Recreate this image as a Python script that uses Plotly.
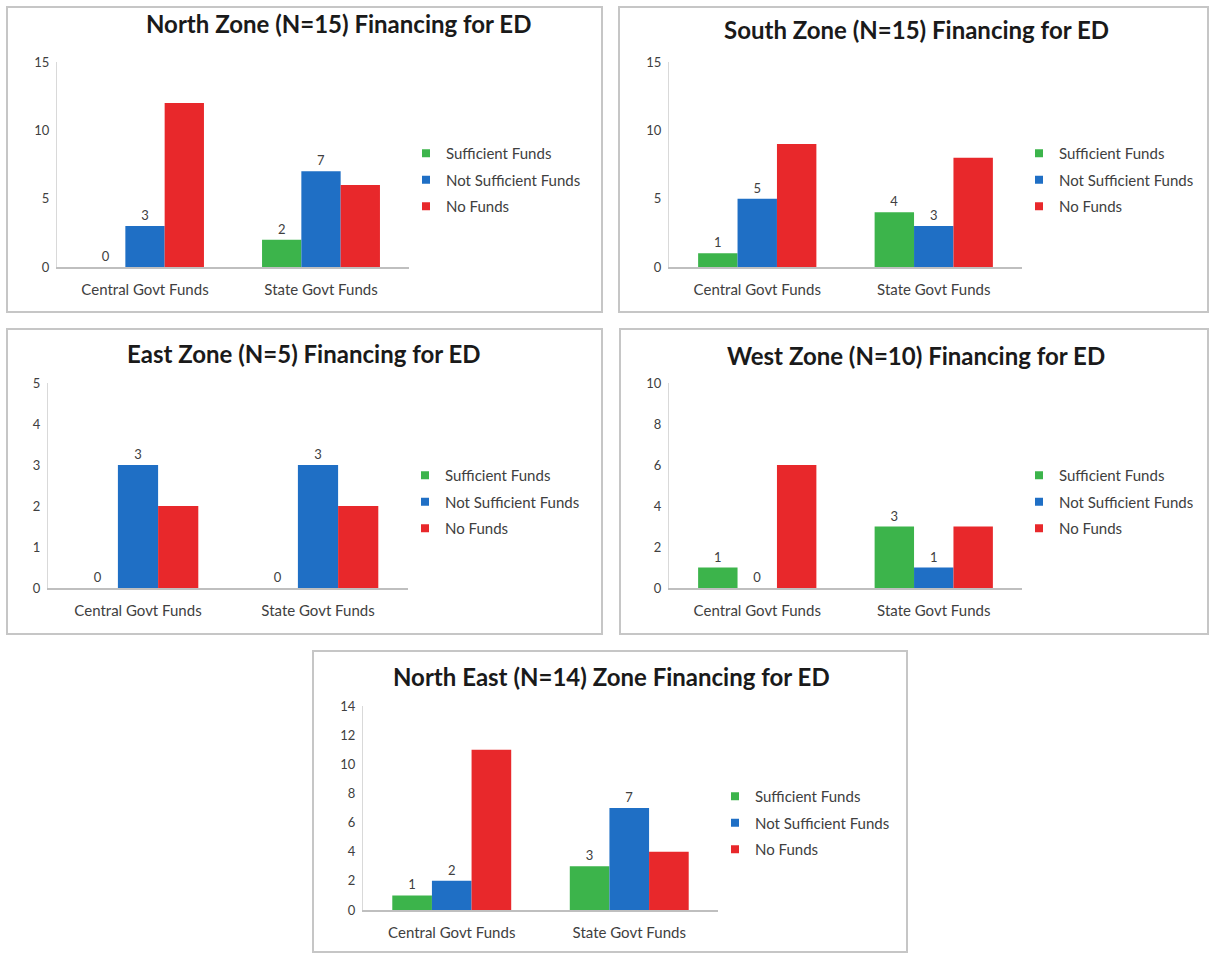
"""
zone_financing.py — five zone panels of ED financing, grouped bars.
"""

import plotly.graph_objects as go

W, H = 1210, 954

CATEGORIES = ["Central Govt Funds", "State Govt Funds"]
SERIES = ["Sufficient Funds", "Not Sufficient Funds", "No Funds"]
COLORS = ["#3CB44B", "#1F6FC5", "#E8282B"]

# values per zone: [central, state]
north_sufficient = [0, 2]
north_not_sufficient = [3, 7]
north_no_funds = [12, 6]

south_sufficient = [1, 4]
south_not_sufficient = [5, 3]
south_no_funds = [9, 8]

east_sufficient = [0, 0]
east_not_sufficient = [3, 3]
east_no_funds = [2, 2]

west_sufficient = [1, 3]
west_not_sufficient = [0, 1]
west_no_funds = [6, 3]

ne_sufficient = [1, 3]
ne_not_sufficient = [2, 7]
ne_no_funds = [11, 4]

TITLES = [
    "North Zone (N=15) Financing for ED",
    "South Zone (N=15) Financing for ED",
    "East Zone (N=5) Financing for ED",
    "West Zone (N=10) Financing for ED",
    "North East (N=14) Zone Financing for ED",
]
Y_MAX = [15, 15, 5, 10, 14]
Y_STEP = [5, 5, 1, 2, 2]

# pixel geometry of each panel: border box, plot area, title centre, legend corner
PANELS = [
    dict(box=(7, 7, 602, 312), plot=(57, 409, 62, 267), title=(338, 24), legend=(406, 137)),
    dict(box=(619, 7, 1208, 312), plot=(669, 1022, 62, 267), title=(916, 30), legend=(1019, 137)),
    dict(box=(7, 329, 602, 634), plot=(48, 408, 383, 588), title=(304, 354), legend=(405, 459)),
    dict(box=(620, 329, 1208, 634), plot=(669, 1022, 383, 588), title=(916, 355), legend=(1019, 459)),
    dict(box=(313, 651, 907, 952), plot=(363, 718, 706, 910), title=(611, 676), legend=(715, 780)),
]

DATA = [
    (north_sufficient, north_not_sufficient, north_no_funds),
    (south_sufficient, south_not_sufficient, south_no_funds),
    (east_sufficient, east_not_sufficient, east_no_funds),
    (west_sufficient, west_not_sufficient, west_no_funds),
    (ne_sufficient, ne_not_sufficient, ne_no_funds),
]

FONT = "Lato, 'Open Sans', sans-serif"
TEXT_GREY = "#404040"


def px(x):
    return x / W


def py(y):
    return 1 - y / H


fig = go.Figure()
layout = dict(shapes=[], annotations=[])

for i, (panel, series_vals) in enumerate(zip(PANELS, DATA)):
    n = "" if i == 0 else str(i + 1)
    xa, ya = f"x{n}", f"y{n}"
    leg = "legend" if i == 0 else f"legend{i + 1}"

    for j, (name, vals, color) in enumerate(zip(SERIES, series_vals, COLORS)):
        labelled = j < 2  # only the green and blue bars carry labels
        fig.add_trace(go.Bar(
            x=CATEGORIES, y=vals, name=name, showlegend=False,
            marker=dict(color=color, line=dict(width=0)),
            text=[str(v) for v in vals] if labelled else None,
            textposition="outside" if labelled else "none",
            textfont=dict(family=FONT, size=13, color=TEXT_GREY),
            cliponaxis=False,
            xaxis=xa, yaxis=ya,
        ))
        # small square legend key, like the Excel one
        fig.add_trace(go.Scatter(
            x=[None], y=[None], mode="markers", name=name,
            marker=dict(symbol="square", size=8, color=color),
            xaxis=xa, yaxis=ya, legend=leg, legendgroup=f"{i}-{j}",
        ))

    x0, x1, ytop, ybot = panel["plot"]
    layout[f"xaxis{n}"] = dict(
        domain=[px(x0), px(x1)], anchor=ya,
        showline=True, linecolor="#BFBFBF", linewidth=1.5,
        showgrid=False, ticks="", fixedrange=True, ticklabelstandoff=8,
        tickfont=dict(family=FONT, size=15, color=TEXT_GREY),
    )
    layout[f"yaxis{n}"] = dict(
        domain=[py(ybot), py(ytop)], anchor=xa,
        range=[0, Y_MAX[i]], dtick=Y_STEP[i], tick0=0,
        showline=True, linecolor="#D9D9D9", linewidth=1,
        showgrid=False, zeroline=False, ticks="", fixedrange=True,
        ticklabelstandoff=4,
        tickfont=dict(family=FONT, size=13, color=TEXT_GREY),
    )

    lx, ly = panel["legend"]
    layout[leg] = dict(
        x=px(lx), y=py(ly), xanchor="left", yanchor="top",
        bgcolor="rgba(0,0,0,0)", traceorder="grouped", tracegroupgap=4,
        font=dict(family=FONT, size=15, color=TEXT_GREY),
    )

    bx0, by0, bx1, by1 = panel["box"]
    layout["shapes"].append(dict(
        type="rect", xref="paper", yref="paper",
        x0=px(bx0), x1=px(bx1), y0=py(by1), y1=py(by0),
        line=dict(color="#C6C6C6", width=2), fillcolor="rgba(0,0,0,0)",
        layer="below",
    ))

    tx, ty = panel["title"]
    layout["annotations"].append(dict(
        text=f"<b>{TITLES[i]}</b>", xref="paper", yref="paper",
        x=px(tx), y=py(ty), xanchor="center", yanchor="middle",
        showarrow=False, font=dict(family=FONT, size=24, color="#1A1A1A"),
    ))

fig.update_layout(
    width=W, height=H,
    # no auto-expansion: paper must span the whole 1210x954 canvas
    margin=dict(l=0, r=0, t=0, b=0, autoexpand=False),
    paper_bgcolor="white", plot_bgcolor="white",
    barmode="group", bargap=0.33, bargroupgap=0,
    showlegend=True,
    **layout,
)

# pin the 1210x954 figure to the window corner so the page never scrolls
PIN = (
    "var gd = document.getElementById('{plot_id}');"
    "gd.style.position = 'fixed'; gd.style.top = '0'; gd.style.left = '0';"
    "document.body.style.margin = '0';"
    "document.documentElement.style.overflow = 'hidden';"
)
fig.write_html("out.html", config={"displayModeBar": False}, post_script=PIN)
